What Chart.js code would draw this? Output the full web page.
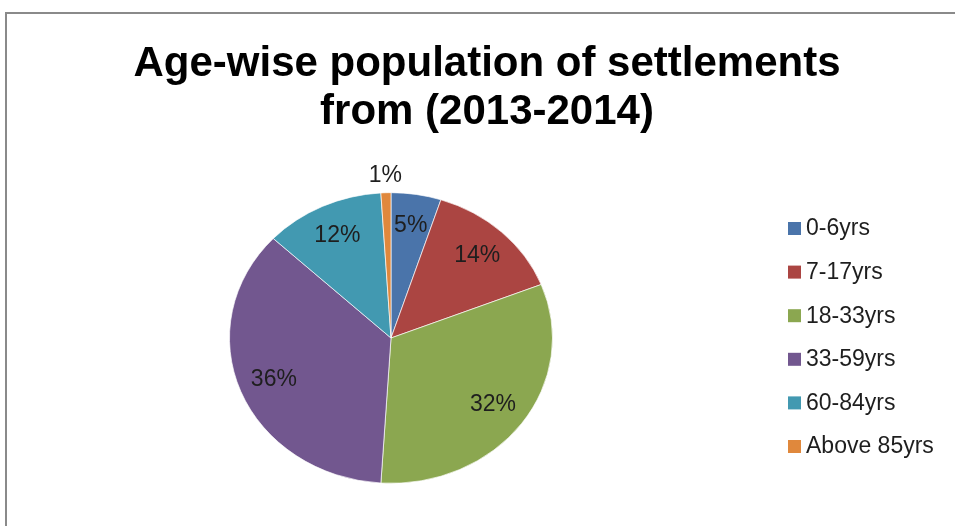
<!DOCTYPE html>
<html>
<head>
<meta charset="utf-8">
<script src="https://cdn.jsdelivr.net/npm/chart.js@4/dist/chart.umd.min.js"></script>
<style>
  html, body { margin: 0; padding: 0; background: #fff; }
  #wrap { position: relative; width: 955px; height: 526px; overflow: hidden; }
  #frame { position: absolute; left: 5px; top: 12px; width: 960px; height: 530px; border: 2px solid #8a8a8a; box-sizing: border-box; }
  canvas { position: absolute; left: 0; top: 0; }
</style>
</head>
<body>
<div id="wrap">
  <div id="frame"></div>
  <canvas id="ageChart" width="955" height="526"></canvas>
</div>
<script>
const titleLines = ['Age-wise population of settlements', 'from (2013-2014)'];
const ageGroups = ['0-6yrs', '7-17yrs', '18-33yrs', '33-59yrs', '60-84yrs', 'Above 85yrs'];
const sharePercent = [5, 14, 32, 36, 12, 1];
const sliceColors = ['#4a74aa', '#ab4542', '#8ba750', '#72578f', '#4299b1', '#e0883c'];

// Excel-style pie is a bit squashed vertically
const Y_SQUASH = 0.9;
const TEXT_FONT = '23px "Liberation Sans", Arial, sans-serif';

const squashPie = {
    id: 'squashPie',
    beforeDatasetsDraw(chart) {
        const arc = chart.getDatasetMeta(0).data[0];
        const ctx = chart.ctx;
        ctx.save();
        ctx.translate(arc.x, arc.y);
        ctx.scale(1, Y_SQUASH);
        ctx.translate(-arc.x, -arc.y);
    },
    afterDatasetsDraw(chart) {
        chart.ctx.restore();
    }
};

const percentLabels = {
    id: 'percentLabels',
    afterDatasetsDraw(chart) {
        const ctx = chart.ctx;
        const meta = chart.getDatasetMeta(0);
        ctx.save();
        ctx.font = TEXT_FONT;
        ctx.fillStyle = '#1e1e1e';
        ctx.textAlign = 'center';
        ctx.textBaseline = 'middle';
        meta.data.forEach((arc, i) => {
            const v = sharePercent[i];
            const mid = (arc.startAngle + arc.endAngle) / 2;
            // tiny slices get their label outside the pie
            const r = v < 3 ? arc.outerRadius * 1.12 : arc.outerRadius * 0.78;
            const x = arc.x + Math.cos(mid) * r;
            const y = arc.y + Math.sin(mid) * r * Y_SQUASH;
            ctx.fillText(v + '%', x, y);
        });
        ctx.restore();
    }
};

const titleAndLegend = {
    id: 'titleAndLegend',
    afterDraw(chart) {
        const ctx = chart.ctx;
        ctx.save();
        ctx.fillStyle = '#000';
        ctx.textAlign = 'center';
        ctx.textBaseline = 'alphabetic';
        ctx.font = 'bold 42px "Liberation Sans", Arial, sans-serif';
        ctx.fillText(titleLines[0], 487, 76);
        ctx.fillText(titleLines[1], 487, 124);

        ctx.font = TEXT_FONT;
        ctx.textAlign = 'left';
        ctx.textBaseline = 'middle';
        ageGroups.forEach((name, i) => {
            const cy = 229 + i * 43.6;
            ctx.fillStyle = sliceColors[i];
            ctx.fillRect(788, cy - 7, 13, 13);
            ctx.fillStyle = '#1e1e1e';
            ctx.fillText(name, 806, cy);
        });
        ctx.restore();
    }
};

new Chart(document.getElementById('ageChart'), {
    type: 'pie',
    data: {
        labels: ageGroups,
        datasets: [{
            data: sharePercent,
            backgroundColor: sliceColors,
            borderColor: 'rgba(255,255,255,0.7)',
            borderWidth: 1,
            hoverOffset: 0
        }]
    },
    options: {
        responsive: false,
        animation: false,
        devicePixelRatio: 1,
        layout: { padding: { left: 229, right: 402, top: 176, bottom: 26 } },
        plugins: {
            legend: { display: false },
            title: { display: false },
            tooltip: { enabled: false }
        }
    },
    plugins: [squashPie, percentLabels, titleAndLegend]
});
</script>
</body>
</html>
